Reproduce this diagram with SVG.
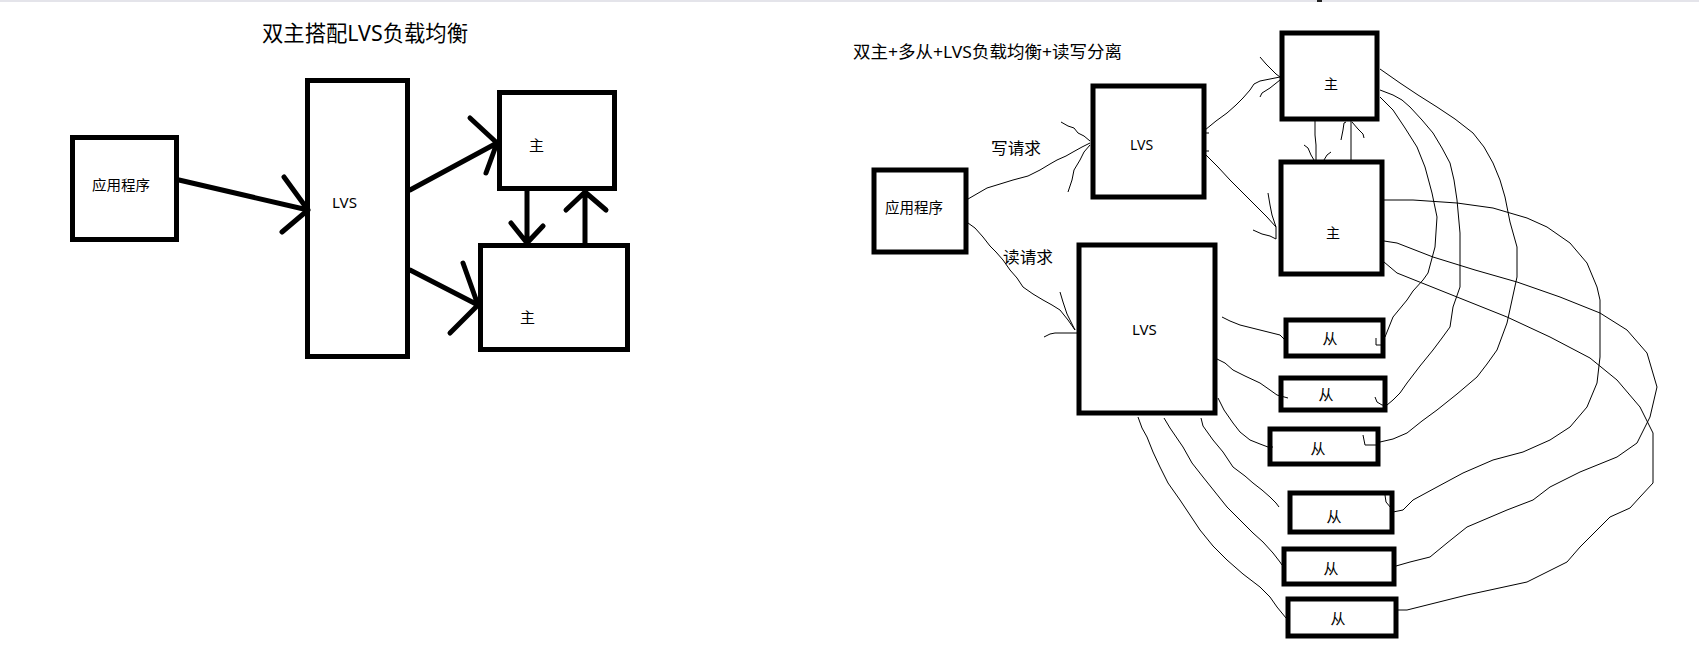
<svg xmlns="http://www.w3.org/2000/svg" width="1699" height="658" viewBox="0 0 1699 658">
<style>
.box{fill:#fff;stroke:#000;stroke-width:5}
.t{font-family:"Noto Sans","Noto Sans CJK SC",sans-serif;fill:#000;dominant-baseline:central}
.thick{fill:none;stroke:#000;stroke-width:5;stroke-linecap:round;stroke-linejoin:round}
.thin{fill:none;stroke:#000;stroke-width:1}
</style>
<rect x="0" y="0" width="1699" height="658" fill="#fff"/>
<line x1="0" y1="1" x2="1699" y2="1" stroke="#e4e4ea" stroke-width="2"/>
<rect x="1317" y="0" width="5" height="2" fill="#222"/>

<text class="t" x="262" y="32" font-size="22" textLength="206" lengthAdjust="spacingAndGlyphs">双主搭配LVS负载均衡</text>
<text class="t" x="853" y="51" font-size="17" textLength="269" lengthAdjust="spacingAndGlyphs">双主+多从+LVS负载均衡+读写分离</text>

<!-- left diagram nodes -->
<g id="app1"><rect class="box" x="72.5" y="137.5" width="104" height="102"/><text class="t" x="92" y="184" font-size="14" textLength="58" lengthAdjust="spacingAndGlyphs">应用程序</text></g>
<g id="lvs1"><rect class="box" x="307.5" y="80.5" width="100" height="276"/><text class="t" x="332" y="202" font-size="14.5" textLength="25" lengthAdjust="spacingAndGlyphs">LVS</text></g>
<g id="master1a"><rect class="box" x="499.5" y="92.5" width="115" height="96"/><text class="t" x="529" y="145" font-size="14.5" textLength="15" lengthAdjust="spacingAndGlyphs">主</text></g>
<g id="master1b"><rect class="box" x="480.5" y="245.5" width="147" height="104"/><text class="t" x="520" y="317" font-size="14.5" textLength="15" lengthAdjust="spacingAndGlyphs">主</text></g>

<!-- right diagram nodes -->
<g id="app2"><rect class="box" x="874" y="170" width="92" height="82"/><text class="t" x="885" y="207" font-size="14.5" textLength="58" lengthAdjust="spacingAndGlyphs">应用程序</text></g>
<g id="lvs2w"><rect class="box" x="1093" y="86" width="111" height="111"/><text class="t" x="1130" y="144" font-size="14">LVS</text></g>
<g id="lvs2r"><rect class="box" x="1079" y="245" width="136" height="168"/><text class="t" x="1132" y="329" font-size="15">LVS</text></g>
<g id="master2a"><rect class="box" x="1282" y="33" width="95" height="86"/><text class="t" x="1324" y="83" font-size="14">主</text></g>
<g id="master2b"><rect class="box" x="1281" y="162" width="101" height="112"/><text class="t" x="1326" y="232" font-size="14">主</text></g>
<g id="slave1"><rect class="box" x="1286" y="320" width="97" height="36"/><text class="t" x="1330" y="338" font-size="15" text-anchor="middle">从</text></g>
<g id="slave2"><rect class="box" x="1281" y="378" width="104" height="32"/><text class="t" x="1326" y="394" font-size="15" text-anchor="middle">从</text></g>
<g id="slave3"><rect class="box" x="1270" y="429" width="108" height="35"/><text class="t" x="1318" y="448" font-size="15" text-anchor="middle">从</text></g>
<g id="slave4"><rect class="box" x="1290" y="493" width="102" height="39"/><text class="t" x="1334" y="516" font-size="15" text-anchor="middle">从</text></g>
<g id="slave5"><rect class="box" x="1284" y="549" width="110" height="35"/><text class="t" x="1331" y="568" font-size="15" text-anchor="middle">从</text></g>
<g id="slave6"><rect class="box" x="1288" y="599" width="108" height="37"/><text class="t" x="1338" y="618" font-size="15" text-anchor="middle">从</text></g>

<text class="t" x="991" y="148" font-size="16" textLength="50" lengthAdjust="spacingAndGlyphs">写请求</text>
<text class="t" x="1003" y="257" font-size="16" textLength="50" lengthAdjust="spacingAndGlyphs">读请求</text>

<g id="connectors">
<!-- left thick arrows -->
<path class="thick" d="M179,180 L308,210 M284,177 L308,210 L282,232"/>
<path class="thick" d="M410,190 L497,143 M470,118 L497,143 L486,173"/>
<path class="thick" d="M410,270 L478,305 M463,263 L478,305 L450,333"/>
<path class="thick" d="M527,191 L527,243 M511,223 L527,243 L543,226"/>
<path class="thick" d="M585,243 L585,192 M566,210 L585,192 L606,210"/>

<!-- right thin connectors -->
<polyline class="thin" points="968,199 987,188 1000,184 1013,180 1028,176 1040,170 1050,164 1057,160 1066,156 1073,152 1082,147 1090,143"/>
<polyline class="thin" points="1061,122 1068,126 1074,128 1078,133 1084,136 1090,141"/>
<polyline class="thin" points="1068,192 1072,180 1074,170 1080,160 1084,152 1090,145"/>
<polyline class="thin" points="968,223 975,228 983,237 990,246 996,252 1003,260 1010,270 1017,278 1023,287 1033,294 1043,300 1052,305 1060,310 1068,320 1075,330"/>
<polyline class="thin" points="1060,292 1063,302 1067,314 1072,324 1075,330"/>
<polyline class="thin" points="1044,337 1050,334 1055,333 1077,333"/>
<polyline class="thin" points="1205,130 1216,121 1227,113 1236,105 1243,98 1250,90 1254,84 1260,81 1270,79 1280,77"/>
<polyline class="thin" points="1260,57 1266,64 1272,70 1276,74 1280,77"/>
<polyline class="thin" points="1260,97 1262,93 1270,88 1280,80"/>
<polyline class="thin" points="1206,155 1218,167 1230,180 1240,190 1250,200 1258,208 1267,217 1276,227"/>
<polyline class="thin" points="1268,193 1270,205 1272,215 1276,227 1276,239"/>
<polyline class="thin" points="1253,230 1262,234 1270,236 1276,239"/>
<line class="thin" x1="1204" y1="133" x2="1209" y2="133"/>
<line class="thin" x1="1204" y1="151" x2="1209" y2="151"/>
<!-- between masters -->
<polyline class="thin" points="1315,121 1315,135 1316,145 1316,160"/>
<polyline class="thin" points="1304,145 1308,148 1311,155 1314,160"/>
<polyline class="thin" points="1331,152 1327,155 1324,160"/>
<polyline class="thin" points="1351,121 1351,140 1351,160"/>
<polyline class="thin" points="1341,140 1343,130 1344,123 1346,122"/>
<polyline class="thin" points="1364,138 1363,134 1358,129 1352,122"/>

<!-- LVS read to slaves -->
<polyline class="thin" points="1222,317 1230,321 1240,325 1260,330 1280,335 1284,339"/>
<polyline class="thin" points="1217,359 1225,363 1233,370 1245,376 1260,383 1270,390 1277,395 1288,398"/>
<polyline class="thin" points="1218,398 1224,410 1233,423 1240,432 1250,440 1260,444 1268,447 1273,447"/>
<polyline class="thin" points="1201,418 1203,426 1213,440 1223,452 1233,467 1245,476 1253,483 1262,490 1270,497 1276,503 1279,507"/>
<polyline class="thin" points="1164,418 1170,428 1183,447 1192,463 1203,477 1215,492 1227,507 1240,520 1253,533 1263,542 1273,553 1280,562 1282,565"/>
<polyline class="thin" points="1138,417 1142,428 1147,437 1153,452 1160,467 1168,483 1180,500 1190,515 1200,530 1213,546 1227,560 1243,574 1260,587 1270,597 1277,607 1286,618"/>

<!-- master top to slaves -->
<polyline class="thin" points="1380,69 1390,76 1400,83 1418,95 1437,107 1455,119 1473,133 1484,147 1493,163 1500,180 1505,197 1510,222 1517,247 1517,277 1512,300 1507,323 1497,350 1487,364 1477,377 1457,394 1437,410 1422,421 1407,433 1393,439 1380,442"/>
<polyline class="thin" points="1363,435 1365,445 1380,445"/>
<polyline class="thin" points="1380,90 1393,95 1402,100 1410,107 1422,120 1433,133 1442,148 1450,163 1454,180 1457,200 1460,233 1460,287 1453,307 1450,327 1442,338 1433,350 1420,366 1407,383 1400,393 1393,400 1387,405"/>
<polyline class="thin" points="1375,397 1377,402 1382,405 1387,405"/>
<polyline class="thin" points="1380,97 1393,110 1405,128 1417,147 1425,167 1432,193 1437,217 1435,247 1428,273 1423,280 1413,291 1407,300 1393,317 1385,337"/>
<polyline class="thin" points="1376,338 1376,345 1385,345"/>

<!-- master second to slaves -->
<polyline class="thin" points="1384,200 1413,200 1457,203 1493,208 1510,213 1527,218 1547,227 1570,243 1587,263 1597,287 1600,300 1600,357 1597,383 1587,407 1570,427 1550,440 1523,452 1493,460 1463,473 1437,487 1413,500 1403,510 1393,512"/>
<polyline class="thin" points="1385,495 1386,502 1391,508"/>
<polyline class="thin" points="1384,241 1397,243 1433,257 1475,270 1517,282 1560,297 1600,313 1627,330 1647,353 1657,387 1650,417 1637,443 1617,457 1580,472 1550,487 1533,500 1507,510 1467,527 1447,543 1430,557 1410,562 1396,566"/>
<polyline class="thin" points="1384,262 1397,273 1427,285 1457,297 1507,317 1550,337 1590,358 1617,380 1640,407 1653,433 1653,483 1640,497 1630,508 1610,517 1595,532 1580,547 1567,562 1527,582 1467,595 1407,610 1398,610"/>
</g>
</svg>
